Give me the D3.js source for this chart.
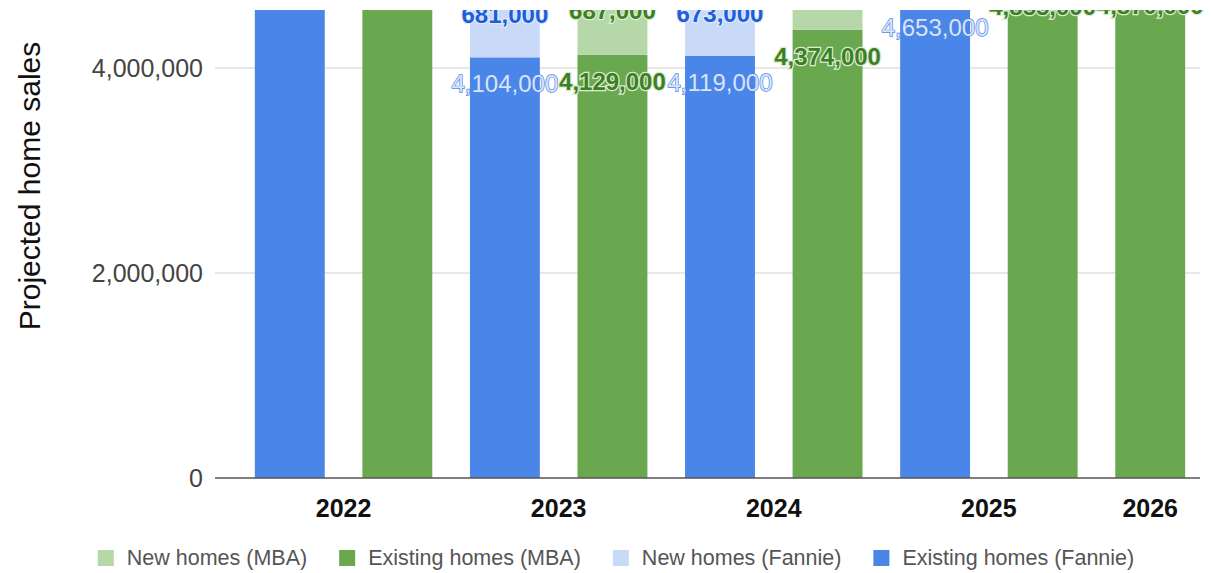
<!DOCTYPE html>
<html>
<head>
<meta charset="utf-8">
<script src="https://cdn.jsdelivr.net/npm/d3@7"></script>
<style>
  body { margin: 0; background: #fff; }
  svg { font-family: "Liberation Sans", Arial, sans-serif; display: block; }
</style>
</head>
<body>
<svg width="1212" height="573"></svg>
<script>
// one bar per (year, source); 2026 only has MBA
const barYears   = ["2022", "2022", "2023", "2023", "2024", "2024", "2025", "2025", "2026"];
const barSources = ["Fannie", "MBA", "Fannie", "MBA", "Fannie", "MBA", "Fannie", "MBA", "MBA"];
const existingHomes = [5030000, 5030000, 4104000, 4129000, 4119000, 4374000, 4653000, 4855000, 4870000];
const newHomes      = [641000, 640000, 681000, 687000, 673000, 720000, 700000, 745000, 790000];
const years = ["2022", "2023", "2024", "2025", "2026"];
const yTicks = [0, 2000000, 4000000];
const legendLabels = ["New homes (MBA)", "Existing homes (MBA)", "New homes (Fannie)", "Existing homes (Fannie)"];

const colors = {
  newMBA: "#b6d7a8", existMBA: "#6aa84f",
  newFannie: "#c9daf8", existFannie: "#4a86e8"
};

const svg = d3.select("svg");
const fmt = d3.format(",");

const bars = barYears.map((yr, i) => ({
  key: yr + "|" + barSources[i], year: yr, source: barSources[i],
  existing: existingHomes[i], fresh: newHomes[i]
}));

const x = d3.scaleBand()
  .domain(bars.map(d => d.key))
  .range([236, 1204])
  .paddingInner(0.35)
  .paddingOuter(0.175);

const y = d3.scaleLinear().domain([0, 4000000]).range([478, 68]);

// gridlines
svg.append("g").selectAll("line")
  .data(yTicks.filter(d => d > 0))
  .enter().append("line")
  .attr("x1", 215).attr("x2", 1200)
  .attr("y1", d => y(d)).attr("y2", d => y(d))
  .attr("stroke", "#d0d0d0").attr("stroke-width", 1);

// y tick labels
svg.append("g").selectAll("text")
  .data(yTicks)
  .enter().append("text")
  .attr("x", 203).attr("y", d => y(d) + 9)
  .attr("text-anchor", "end")
  .attr("font-size", 25)
  .attr("fill", "#444")
  .text(d => fmt(d));

// axis title
svg.append("text")
  .attr("transform", "translate(40,186) rotate(-90)")
  .attr("text-anchor", "middle")
  .attr("font-size", 30)
  .attr("fill", "#111")
  .text("Projected home sales");

// plot area clipped at the top
svg.append("clipPath").attr("id", "plotClip")
  .append("rect").attr("x", 0).attr("y", 10).attr("width", 1212).attr("height", 470);

const plot = svg.append("g").attr("clip-path", "url(#plotClip)");

const isF = d => d.source === "Fannie";

plot.selectAll("rect.exist").data(bars).enter().append("rect")
  .attr("class", "exist")
  .attr("x", d => x(d.key)).attr("width", x.bandwidth())
  .attr("y", d => y(d.existing)).attr("height", d => y(0) - y(d.existing))
  .attr("fill", d => isF(d) ? colors.existFannie : colors.existMBA);

plot.selectAll("rect.fresh").data(bars).enter().append("rect")
  .attr("class", "fresh")
  .attr("x", d => x(d.key)).attr("width", x.bandwidth())
  .attr("y", d => y(d.existing + d.fresh)).attr("height", d => y(d.existing) - y(d.existing + d.fresh))
  .attr("fill", d => isF(d) ? colors.newFannie : colors.newMBA);

// value labels, sitting just under the top of each segment
const cx = d => x(d.key) + x.bandwidth() / 2;

plot.selectAll("text.freshLbl").data(bars).enter().append("text")
  .attr("class", "freshLbl")
  .attr("x", cx).attr("y", d => y(d.existing + d.fresh) + 35)
  .attr("text-anchor", "middle")
  .attr("font-size", 24).attr("font-weight", "bold")
  .attr("fill", d => isF(d) ? "#1c5fd8" : "#3d7f22")
  .attr("stroke", d => isF(d) ? "#dfe9fb" : "#dcecd4")
  .attr("stroke-width", 2.5).attr("paint-order", "stroke")
  .text(d => fmt(d.fresh));

plot.selectAll("text.existLbl").data(bars).enter().append("text")
  .attr("class", "existLbl")
  .attr("x", cx).attr("y", d => y(d.existing) + 35)
  .attr("text-anchor", "middle")
  .attr("font-size", 24)
  .attr("font-weight", d => isF(d) ? "normal" : "bold")
  .attr("fill", d => isF(d) ? "#d6e3fb" : "#3d7f22")
  .attr("stroke", d => isF(d) ? "#4f85e6" : "#dcecd4")
  .attr("stroke-width", d => isF(d) ? 1.3 : 2.5)
  .attr("paint-order", "stroke")
  .text(d => fmt(d.existing));

// baseline
svg.append("line")
  .attr("x1", 215).attr("x2", 1200)
  .attr("y1", y(0)).attr("y2", y(0))
  .attr("stroke", "#555").attr("stroke-width", 1.5);

// year labels centred under each year's bars
const yearCenter = yr => {
  const b = bars.filter(d => d.year === yr);
  return (x(b[0].key) + x(b[b.length - 1].key) + x.bandwidth()) / 2;
};
svg.append("g").selectAll("text")
  .data(years)
  .enter().append("text")
  .attr("x", yearCenter).attr("y", 517)
  .attr("text-anchor", "middle")
  .attr("font-size", 25).attr("font-weight", "bold")
  .attr("fill", "#111")
  .text(d => d);

// legend
const legendColors = [colors.newMBA, colors.existMBA, colors.newFannie, colors.existFannie];
const legend = svg.append("g");
let lx = 0;
legendLabels.forEach((lbl, i) => {
  const g = legend.append("g").attr("transform", `translate(${lx},0)`);
  g.append("rect").attr("x", 0).attr("y", -8).attr("width", 16).attr("height", 16)
    .attr("fill", legendColors[i]);
  const t = g.append("text").attr("x", 29).attr("y", 7)
    .attr("font-size", 21.5).attr("fill", "#555").text(lbl);
  lx += 29 + t.node().getComputedTextLength() + 32;
});
const legendW = lx - 32;
legend.attr("transform", `translate(${616 - legendW / 2},558)`);
</script>
</body>
</html>
